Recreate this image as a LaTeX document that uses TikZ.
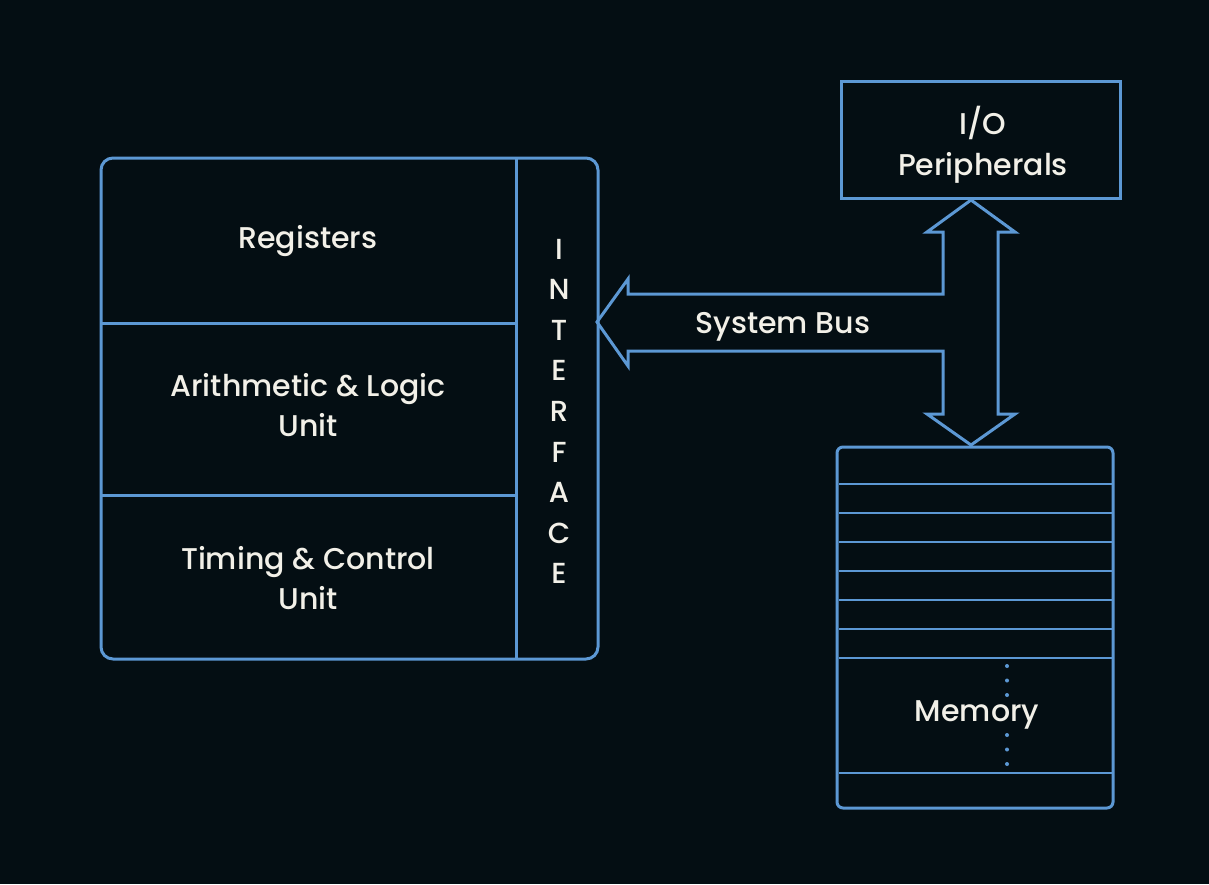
\documentclass[tikz,border=0pt]{standalone}
\usepackage{fontspec}
\setmainfont{Poppins}[UprightFont=* Medium]
\definecolor{bg}{RGB}{4,14,19}
\definecolor{ln}{RGB}{92,152,212}
\definecolor{tx}{RGB}{242,240,232}
\begin{document}
\begin{tikzpicture}[x=1pt,y=-1pt,
  box/.style={draw=ln,line width=3pt},
  thin/.style={draw=ln,line width=2pt},
  lbl/.style={text=tx,font=\fontsize{30}{40.5}\selectfont,align=center,inner sep=0pt},
  iface/.style={text=tx,font=\fontsize{29}{30}\selectfont,inner sep=0pt}]
\fill[bg] (0,0) rectangle (1209,884);
\useasboundingbox (0,0) rectangle (1209,884);
% CPU
\draw[box,rounded corners=12pt] (101,158) rectangle (598,659);
\draw[box] (516,158) -- (516,659);
\draw[box] (101,323) -- (516,323);
\draw[box] (101,495) -- (516,495);
\node[lbl] (reg) at (308,241) {Registers};
\node[lbl] (alu) at (308,405) {Arithmetic \& Logic\\Unit};
\node[lbl] (tcu) at (308,578) {Timing \& Control\\Unit};
\foreach \l [count=\i from 0] in {I,N,T,E,R,F,A,C,E}
  \node[iface] (if\i) at (559,249+40.6*\i) {\l};
% I/O
\draw[box] (841,81) rectangle (1120,198);
\node[lbl] (io) at (983,145) {I/O\\Peripherals};
% Memory
\draw[box,rounded corners=6pt] (837,447) rectangle (1113,808);
\foreach \y in {484,513,542,571,600,629,658,773}
  \draw[thin] (839,\y) -- (1112,\y);
\foreach \y in {666,680.5,695,735,749.5,764}
  \fill[ln] (1007,\y) circle (2pt);
\node[lbl] (mem) at (977,715) {Memory};
% Bus
\draw[box,line join=miter] (597,322) -- (628,279) -- (628,294) -- (943,294) -- (943,232) -- (927,232) -- (971,200)
  -- (1015,232) -- (998,232) -- (998,414) -- (1015,414) -- (971,445) -- (927,414) -- (943,414) -- (943,351)
  -- (628,351) -- (628,366) -- cycle;
\node[lbl] (bus) at (783,327) {System Bus};
\end{tikzpicture}
\end{document}
